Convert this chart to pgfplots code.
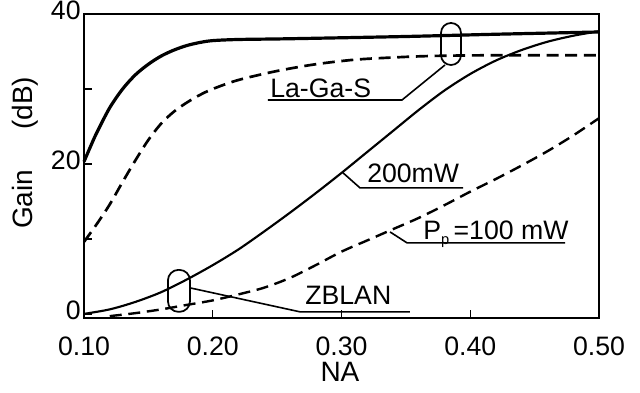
\documentclass[border=0pt]{standalone}
\usepackage{fontspec}
\setmainfont{Liberation Sans}
\usepackage{pgfplots}
\pgfplotsset{compat=1.18}
\begin{document}
\begin{tikzpicture}
\begin{axis}[
 scale only axis, width=386.25pt, height=228pt,
 xmin=0.1, xmax=0.5, ymin=-0.55, ymax=40,
 xtick={0.1,0.2,0.3,0.4,0.5},
 xticklabels={0.10,0.20,0.30,0.40,0.50},
 ytick={0,20,40}, minor ytick={10,30},
 tick align=inside, tick pos=left,
 major tick length=6pt, minor tick length=6pt,
 axis line style={line width=1.4pt},
 every tick/.style={line width=1.1pt, black},
 tick label style={font=\fontsize{20}{24}\selectfont},
 /pgf/number format/assume math mode=true,
 xticklabel style={yshift=-11pt},
 yticklabel style={yshift=3pt, xshift=1pt},
 clip=false,
 xlabel={NA},
 xlabel style={at={(axis description cs:0.497,-0.178)}, anchor=center, font=\fontsize{21}{24}\selectfont},
 ylabel={Gain\hspace{30pt}(dB)},
 ylabel style={at={(axis description cs:-0.1146,0.543)}, anchor=center, font=\fontsize{21}{24}\selectfont},
]
% La-Ga-S, 200 mW (solid)
\addplot[black, line width=2.4pt, smooth] coordinates {
 (0.100,20.3) (0.105,22.3) (0.11,24.2) (0.12,27.5) (0.13,30.0) (0.14,31.9)
 (0.15,33.3) (0.16,34.4) (0.17,35.2) (0.18,35.8) (0.19,36.2) (0.20,36.45)
 (0.22,36.6) (0.26,36.7) (0.35,37.0) (0.42,37.3) (0.50,37.6)};
% La-Ga-S, 100 mW (dashed)
\addplot[black, line width=2pt, dash pattern=on 9pt off 5pt, smooth] coordinates {
 (0.10,9.6) (0.11,12.0) (0.12,14.6) (0.13,17.6) (0.14,20.5) (0.15,23.2)
 (0.16,25.4) (0.17,27.0) (0.18,28.2) (0.19,29.2) (0.20,30.0) (0.22,31.2)
 (0.25,32.4) (0.28,33.3) (0.31,33.9) (0.34,34.2) (0.37,34.4) (0.42,34.5)
 (0.50,34.5)};
% ZBLAN, 200 mW (solid)
\addplot[black, line width=1.6pt, smooth] coordinates {
 (0.10,0.0) (0.12,0.6) (0.14,1.6) (0.16,2.9) (0.18,4.6) (0.20,6.5)
 (0.22,8.6) (0.24,11.0) (0.26,13.5) (0.28,16.1) (0.30,18.8) (0.32,21.6)
 (0.34,24.4) (0.36,27.2) (0.38,29.8) (0.40,32.0) (0.42,33.8) (0.44,35.2)
 (0.46,36.3) (0.48,37.1) (0.50,37.7)};
% ZBLAN, 100 mW (dashed)
\addplot[black, line width=1.8pt, dash pattern=on 9pt off 5pt, smooth] coordinates {
 (0.12,-0.3) (0.14,0.1) (0.16,0.6) (0.18,1.2) (0.20,1.8) (0.22,2.6)
 (0.24,3.5) (0.26,4.8) (0.28,6.5) (0.30,8.3) (0.32,9.8) (0.34,11.3)
 (0.36,12.8) (0.38,14.5) (0.40,16.3) (0.42,18.0) (0.44,19.8) (0.46,21.7)
 (0.48,23.8) (0.50,26.1)};
% annotations
\draw[line width=1.3pt, rounded corners=7.4pt] (axis cs:0.3773,33.2) rectangle (axis cs:0.3928,38.8);
\draw[line width=1.2pt] (axis cs:0.2429,28.53) -- (axis cs:0.347,28.53) -- (axis cs:0.3804,33.2);
\node[anchor=base west, inner sep=0, font=\fontsize{20}{24}\selectfont] at (axis cs:0.2445,28.9) {La-Ga-S};
\draw[line width=1.2pt] (axis cs:0.3004,18.93) -- (axis cs:0.3144,16.8) -- (axis cs:0.3944,16.8);
\node[anchor=base west, inner sep=0, font=\fontsize{20}{24}\selectfont] at (axis cs:0.3198,17.47) {200mW};
\draw[line width=1.2pt] (axis cs:0.3377,10.93) -- (axis cs:0.3509,9.47) -- (axis cs:0.4736,9.47);
\node[anchor=base west, inner sep=0, font=\fontsize{20}{24}\selectfont] at (axis cs:0.3633,9.9) {P\raisebox{-0.35ex}{\fontsize{11}{12}\selectfont p}\,=100 mW};
\draw[line width=1.3pt, rounded corners=7.9pt] (axis cs:0.1652,0.27) rectangle (axis cs:0.1823,5.87);
\draw[line width=1.2pt] (axis cs:0.1823,3.47) -- (axis cs:0.2678,0.27) -- (axis cs:0.3532,0.27);
\node[anchor=base west, inner sep=0, font=\fontsize{20}{24}\selectfont] at (axis cs:0.2717,1.2) {ZBLAN};
\end{axis}
\pgfresetboundingbox
\path[use as bounding box] (-63pt,-56.25pt) rectangle (417pt,238.5pt);
\end{tikzpicture}
\end{document}
